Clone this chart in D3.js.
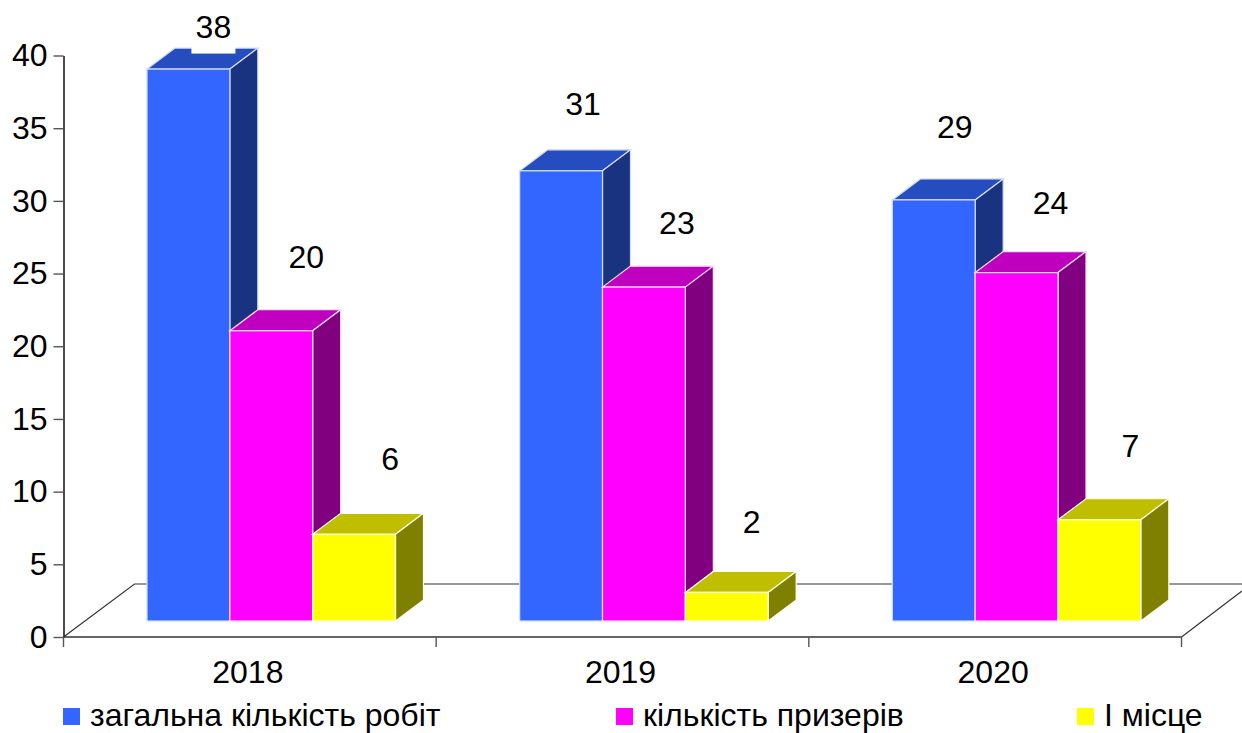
<!DOCTYPE html>
<html>
<head>
<meta charset="utf-8">
<script src="https://cdn.jsdelivr.net/npm/d3@7.9.0/dist/d3.min.js"></script>
<style>
  html, body { margin: 0; padding: 0; background: #fff; }
  svg { display: block; }
  text { font-family: "Liberation Sans", Arial, sans-serif; fill: #000; }
</style>
</head>
<body>
<svg id="chart" width="1242" height="733"></svg>
<script>
// data
const years = ['2018', '2019', '2020'];
const seriesNames = ['загальна кількість робіт', 'кількість призерів', 'І місце'];
const totalWorks = [38, 31, 29];
const prizeWinners = [20, 23, 24];
const firstPlace = [6, 2, 7];
const seriesValues = [totalWorks, prizeWinners, firstPlace];
const yTicks = [0, 5, 10, 15, 20, 25, 30, 35, 40];

// colours: front, top, side
const colors = [
  ['#3366ff', '#264dbf', '#1a3380'],
  ['#ff00ff', '#bf00bf', '#800080'],
  ['#ffff00', '#bfbf00', '#808000']
];
const edgeColors = ['#d5deff', '#ffe0ff', '#ffffee'];

// hand placed label nudges from bar centre/top (the original is not regular)
const labelNudge = [
  [[25, -42], [22, -67], [21, -73]],
  [[35, -73], [33, -64], [34, -69]],
  [[36, -75], [25, -70], [31, -73]]
];

const svg = d3.select('#chart');
const fontSize = 32;
const depthX = 28, depthY = 21;   // bar depth
const baseLift = 16;              // bars stand on the floor, above the front edge

const x0 = d3.scaleBand().domain(years).range([63.5, 1181.5]);
const x1 = d3.scaleBand().domain(d3.range(3)).range([83.5, 332]);
const y = d3.scaleLinear().domain([0, 40]).range([637, 55.5]);

// floor
const floor = svg.append('g').attr('fill', 'none').attr('stroke', '#333').attr('stroke-width', 1.2);
floor.append('path').attr('d', 'M63.5,637 L134.5,584 L1242,584');
floor.append('path').attr('d', 'M1181.5,637 L1242,591');

// bars, left to right so each one covers the side of the previous
years.forEach((year, i) => {
  seriesValues.forEach((values, s) => {
    const left = x0(year) + x1(s);
    const right = left + x1.bandwidth();
    const top = y(values[i]) - baseLift + 0.5;
    const bottom = y(0) - baseLift;
    const g = svg.append('g').attr('stroke', edgeColors[s]).attr('stroke-width', 1.2);
    g.append('polygon')
      .attr('points', [[left, top], [left + depthX, top - depthY], [right + depthX, top - depthY], [right, top]].join(' '))
      .attr('fill', colors[s][1]);
    g.append('polygon')
      .attr('points', [[right, top], [right + depthX, top - depthY], [right + depthX, bottom - depthY], [right, bottom]].join(' '))
      .attr('fill', colors[s][2]);
    g.append('rect')
      .attr('x', left).attr('y', top)
      .attr('width', right - left).attr('height', bottom - top)
      .attr('fill', colors[s][0]);
  });
});

// value labels sit on white boxes, which is what bites into the first bar
years.forEach((year, i) => {
  seriesValues.forEach((values, s) => {
    const cx = x0(year) + x1(s) + x1.bandwidth() / 2 + labelNudge[s][i][0];
    const cy = y(values[i]) - baseLift + labelNudge[s][i][1];
    svg.append('rect')
      .attr('x', cx - 22).attr('y', cy - 27)
      .attr('width', 44).attr('height', 54)
      .attr('fill', '#fff');
    svg.append('text')
      .attr('x', cx).attr('y', cy)
      .attr('dy', '0.35em')
      .attr('text-anchor', 'middle')
      .attr('font-size', fontSize)
      .text(values[i]);
  });
});

// axes
const yAxis = svg.append('g')
  .attr('transform', 'translate(63.5,0)')
  .call(d3.axisLeft(y).tickValues(yTicks).tickSize(10).tickPadding(6).tickSizeOuter(0));
yAxis.select('.domain').attr('stroke', '#000').attr('stroke-width', 1.4);
yAxis.selectAll('.tick line').attr('stroke', '#555').attr('stroke-width', 1.4);
yAxis.selectAll('text').attr('font-size', fontSize).attr('font-family', null).attr('fill', '#000');

const xAxis = svg.append('g')
  .attr('transform', 'translate(0,637)')
  .call(d3.axisBottom(x0).tickSize(0).tickPadding(23));
xAxis.select('.domain').remove();
xAxis.selectAll('text').attr('font-size', fontSize).attr('font-family', null).attr('fill', '#000').attr('dx', -2);
svg.append('line')
  .attr('x1', 63.5).attr('x2', 1181.5).attr('y1', 637).attr('y2', 637)
  .attr('stroke', '#333').attr('stroke-width', 1.4);
const edges = years.map(d => x0(d)).concat([x0.range()[1]]);
svg.selectAll('.xtick').data(edges).join('line')
  .attr('class', 'xtick')
  .attr('x1', d => d).attr('x2', d => d)
  .attr('y1', 637).attr('y2', 647)
  .attr('stroke', '#555').attr('stroke-width', 1.4);

// legend
const legendSwatchX = [63, 616, 1077];
seriesNames.forEach((name, s) => {
  svg.append('rect')
    .attr('x', legendSwatchX[s]).attr('y', 708)
    .attr('width', 17).attr('height', 17)
    .attr('fill', colors[s][0]);
  svg.append('text')
    .attr('x', legendSwatchX[s] + 27).attr('y', 726)
    .attr('font-size', fontSize)
    .text(name);
});
</script>
</body>
</html>
